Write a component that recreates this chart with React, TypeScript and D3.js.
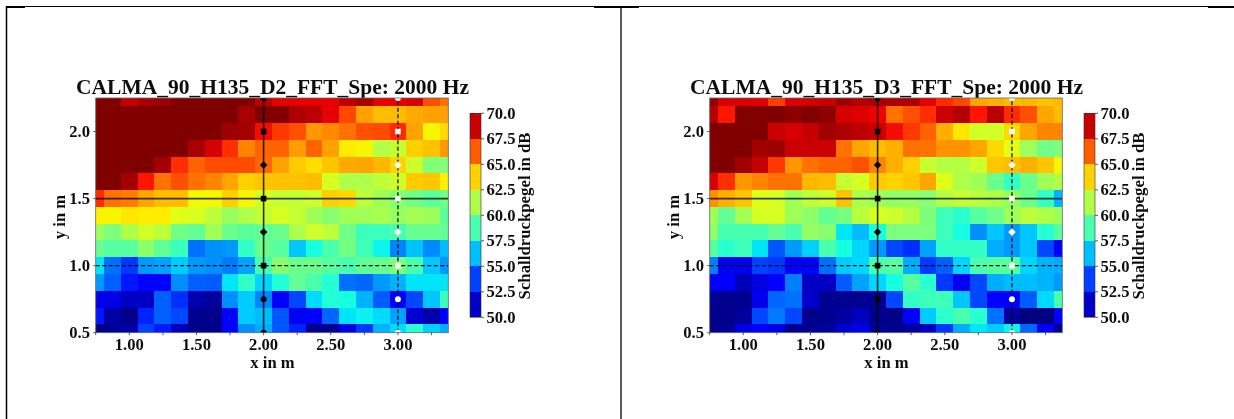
import React from 'react';
import * as d3 from 'd3';

// grid positions of the measured cells
const xCells = [0.75, 0.875, 1, 1.125, 1.25, 1.375, 1.5, 1.625, 1.75, 1.875, 2, 2.125, 2.25, 2.375, 2.5, 2.625, 2.75, 2.875, 3, 3.125, 3.25, 3.375];
const yCells = [2.25, 2.125, 2, 1.875, 1.75, 1.625, 1.5, 1.375, 1.25, 1.125, 1, 0.875, 0.75, 0.625, 0.5];

const xTicks = [0.75, 1, 1.25, 1.5, 1.75, 2, 2.25, 2.5, 2.75, 3, 3.25];
const xLabels = [1, 1.5, 2, 2.5, 3];
const yTicks = [0.5, 1, 1.5, 2];
const barLevels = [50, 52.5, 55, 57.5, 60, 62.5, 65, 67.5, 70];

const markerYs = [2.25, 2, 1.75, 1.5, 1.25, 1, 0.75, 0.5];
const markerShapes = ['circle', 'square', 'diamond', 'square', 'diamond', 'square', 'circle', 'circle'];

// dB per row, top row first
const d2Values = [
  [70, 70, 68.8, 69.3, 69.5, 70, 70, 70, 70, 70, 69, 68.2, 68.2, 68.2, 68.2, 69, 69.3, 68.2, 68.2, 68.5, 66.5, 65.8],
  [70, 70, 70, 70, 70, 70, 70, 70, 70, 69.3, 70, 70, 69.2, 69, 68.2, 66.7, 64.8, 64.2, 64.2, 64.6, 64.8, 64.8],
  [70, 70, 70, 70, 70, 70, 70, 70, 69.5, 69.4, 68, 67, 66.5, 65, 65.3, 65.8, 66.5, 66.6, 67.3, 64.8, 63, 63.6],
  [70, 70, 70, 70, 70, 70, 69.3, 68.5, 67.2, 65.4, 66.1, 66.1, 64.9, 66.1, 64.8, 63.2, 63, 61.3, 61.8, 63.8, 64.1, 65],
  [70, 70, 70, 70, 69.4, 67.2, 66.1, 66.6, 66.6, 66.6, 66, 64.8, 63.9, 63.5, 64, 64.6, 64.7, 64.3, 63.7, 62, 60.1, 60.1],
  [70, 70, 69.4, 67.8, 65.8, 66.5, 65.8, 65.4, 64.7, 63.8, 64, 64.1, 64.1, 64.2, 62.2, 61.2, 61.2, 61.6, 62, 63.9, 64, 63.1],
  [67.3, 65.8, 65.6, 64.7, 64.2, 64.2, 62.9, 62.9, 63.8, 63, 62.1, 61.8, 61.8, 62, 63.8, 63.6, 61.6, 60.9, 60.3, 59.8, 59.2, 59.8],
  [63.1, 63, 63.3, 63.2, 63.2, 62.4, 62.3, 61.6, 60.7, 61.2, 61.8, 62.2, 61.8, 60.9, 60.3, 60.9, 60.9, 61.1, 60.6, 61, 60.8, 59.2],
  [60.8, 60, 61.2, 62.1, 61.6, 59.7, 59.4, 60.9, 59.6, 59.2, 59.4, 59.6, 61.2, 62, 61.6, 59.7, 58.4, 58.4, 58.8, 59.5, 59.5, 59.4],
  [59.5, 59.1, 59.1, 60.4, 59.3, 58.4, 54.7, 55.3, 55.5, 58.2, 59.6, 59.1, 56.4, 57.6, 58.8, 59.8, 58.5, 57.3, 55.1, 56.3, 55.2, 56.2],
  [57, 54.7, 53.6, 55.5, 55.7, 56.5, 55.5, 55.3, 54.9, 55.7, 58.8, 60.3, 59.6, 59.6, 59.1, 58.7, 59.3, 59.5, 60, 58.8, 56.4, 55.5],
  [55.5, 54.4, 53, 52.2, 52.2, 55.3, 54.4, 54.3, 57, 58.2, 56.7, 57.8, 59.4, 58.8, 57.8, 54.7, 54.5, 55.5, 56, 57, 57, 57],
  [51.8, 51.8, 51.2, 51.2, 54.4, 53.4, 50.8, 50.5, 55.3, 56.5, 55.1, 52.6, 53.9, 56.8, 57.8, 57.6, 56, 54.3, 52.5, 53.9, 56.4, 58.4],
  [53, 50.6, 50.2, 53.2, 54.4, 53.9, 50.2, 50.2, 52.6, 56.5, 56.2, 54.2, 52, 52.2, 54.5, 57, 57.2, 56.8, 55.7, 51.4, 50.7, 52.2],
  [50.1, 50.3, 50.7, 53.8, 53.1, 51, 50.2, 50.2, 52.2, 55.3, 55.9, 54.2, 53.2, 50.2, 50.3, 51.8, 53.6, 56, 56.8, 58, 56.6, 55.9],
];

const d3Values = [
  [69.6, 68.5, 68.4, 68.3, 66.9, 68.4, 68.5, 68.8, 69.5, 69.1, 69.4, 69.2, 69.2, 68.2, 67.3, 66.7, 64.7, 64.5, 64.2, 64.3, 64.1, 64.3],
  [69.1, 67.8, 70, 70, 70, 69.8, 70, 69.8, 68.5, 68.4, 68.1, 65.8, 66.5, 67.2, 68.7, 69.1, 67.8, 69, 67.3, 66.5, 64.7, 64.2],
  [70, 70, 70, 70, 68.7, 68.5, 68.8, 69.4, 69.2, 69, 68.7, 68, 67, 66.1, 64.5, 63.3, 62.1, 62.1, 63.6, 64.7, 65.4, 65.4],
  [70, 70, 70, 69.4, 69.5, 68.7, 68.7, 68.7, 65.8, 64.7, 64.2, 64.5, 65.8, 65.8, 65.1, 65.1, 64.7, 63.6, 62.5, 60.8, 59.7, 60],
  [70, 70, 69.4, 68.8, 67, 65, 65.8, 66.1, 66.1, 66.5, 65.4, 64.5, 63.8, 61.8, 61.4, 61.4, 62, 64, 64.2, 64.5, 64, 63],
  [68.5, 67.2, 65, 65.4, 65.8, 65.8, 64.3, 64.2, 61.8, 62.2, 63.9, 63.7, 64, 64.7, 62.4, 61.2, 60.9, 59.6, 58.2, 59.6, 60.9, 61.4],
  [65.2, 64.5, 64, 62.4, 62.2, 60.9, 61.6, 62, 64.1, 61.2, 60.9, 60.6, 60.6, 60.3, 61.4, 61.8, 61.5, 61.2, 60.6, 59.6, 58.2, 56],
  [60.9, 59.4, 61, 62.2, 62.2, 60.9, 60.4, 59.4, 59.9, 61.5, 62.2, 62, 61.4, 60, 58.5, 58, 59.1, 59.7, 60.8, 61.6, 61.2, 60.8],
  [60.4, 58.7, 58.7, 58.7, 59.4, 58.8, 60.6, 60.3, 57, 56.2, 57.6, 60, 60, 60, 58.5, 57.5, 55.3, 56.4, 55.5, 56.4, 57.9, 59.1],
  [59.1, 58, 58.5, 57, 54.2, 55.5, 56.6, 58.8, 57.6, 56.7, 55.5, 53.9, 53.4, 55.7, 58.2, 58.2, 58.2, 55.9, 55.5, 56.4, 53.9, 52.5],
  [55, 51.9, 51.9, 53.8, 53.6, 52.3, 52.3, 54.7, 56.5, 56.7, 58.8, 59.1, 55.9, 53.6, 54.4, 56.7, 58.8, 59.1, 59.1, 56.7, 56, 55.9],
  [52.5, 52.5, 51, 51.7, 52.4, 55, 51.2, 51.2, 54.3, 55.7, 56.7, 57.5, 59.1, 58, 53.6, 52, 53.9, 55.9, 56.2, 56.2, 56, 55.5],
  [50.4, 50.3, 50.3, 51.9, 54.5, 54.7, 51.3, 50.3, 50.3, 50.3, 50.3, 53.9, 58.2, 58.5, 58.5, 56.4, 53.9, 52.3, 52.1, 54.3, 56.8, 58.8],
  [50.2, 50.2, 50.5, 53.9, 54.9, 53.9, 50.2, 50.3, 50.6, 51.1, 50.2, 50.1, 52.6, 56.5, 58, 58.8, 58, 54.7, 50.5, 50, 50, 52.2],
  [50.2, 50.3, 51.8, 52.6, 51.8, 50.3, 50.3, 50.5, 51.4, 51.8, 50.5, 50.3, 50.5, 51.1, 53.6, 55.9, 57, 56.5, 57.3, 54.5, 52.4, 50.3],
];

const fontFamily = '"Liberation Serif", serif';

// matplotlib's jet, channel by channel
const red = d3.scaleLinear().domain([0, 0.35, 0.66, 0.89, 1]).range([0, 0, 255, 255, 128]);
const green = d3.scaleLinear().domain([0, 0.125, 0.375, 0.64, 0.91, 1]).range([0, 0, 255, 255, 0, 0]);
const blue = d3.scaleLinear().domain([0, 0.11, 0.34, 0.65, 1]).range([128, 255, 255, 0, 0]);
const toUnit = d3.scaleLinear().domain([50, 70]).range([0, 1]).clamp(true);
const jet = (v: number) => {
  const t = toUnit(v);
  return d3.rgb(red(t), green(t), blue(t)).formatHex();
};

const x = d3.scaleLinear().domain([0.75, 3.375]).range([95.7, 448.3]);
const y = d3.scaleLinear().domain([0.5, 2.25]).range([332.7, 98]);
const barY = d3.scaleLinear().domain([50, 70]).range([317.3, 113.3]);

function Marker({ cx, cy, shape, fill }: { cx: number; cy: number; shape: string; fill: string }) {
  if (shape === 'square') return <rect x={cx - 2.8} y={cy - 2.8} width={5.6} height={5.6} fill={fill} />;
  if (shape === 'diamond') return <path d={`M${cx},${cy - 3.8}L${cx + 3.8},${cy}L${cx},${cy + 3.8}L${cx - 3.8},${cy}Z`} fill={fill} />;
  return <circle cx={cx} cy={cy} r={3} fill={fill} />;
}

function Panel({ id, dx, title, rows }: { id: string; dx: number; title: string; rows: number[][] }) {
  const cw = x(0.875) - x(0.75);
  const ch = y(0.5) - y(0.625);
  return (
    <g transform={`translate(${dx},0)`} fontFamily={fontFamily} fontWeight="bold" fill="#111" filter="url(#soft)">
      <clipPath id={id}>
        <rect x={x(0.75)} y={y(2.25)} width={x(3.375) - x(0.75)} height={y(0.5) - y(2.25)} />
      </clipPath>
      <text x={272.5} y={94} fontSize={21.5} textAnchor="middle">{title}</text>
      <g clipPath={`url(#${id})`}>
        {rows.map((row, j) =>
          row.map((v, i) => (
            <rect key={`${j}-${i}`} x={x(xCells[i]) - cw / 2} y={y(yCells[j]) - ch / 2} width={cw} height={ch} fill={jet(v)} shapeRendering="crispEdges" />
          ))
        )}
        <line x1={x(0.75)} x2={x(3.375)} y1={y(1.5)} y2={y(1.5)} stroke="#000" strokeOpacity={0.75} strokeWidth={1.6} />
        <line x1={x(0.75)} x2={x(3.375)} y1={y(1)} y2={y(1)} stroke="#000" strokeWidth={1.2} strokeDasharray="4 2.5" />
        <line x1={x(2)} x2={x(2)} y1={y(0.5)} y2={y(2.25)} stroke="#000" strokeOpacity={0.8} strokeWidth={1.6} />
        <line x1={x(3)} x2={x(3)} y1={y(0.5)} y2={y(2.25)} stroke="#000" strokeWidth={1.2} strokeDasharray="4 2.5" />
        {markerYs.map((v, i) => (
          <g key={v}>
            <Marker cx={x(2)} cy={y(v)} shape={markerShapes[i]} fill="#000" />
            <Marker cx={x(3)} cy={y(v)} shape={markerShapes[i]} fill="#fff" />
          </g>
        ))}
      </g>
      <rect x={x(0.75)} y={y(2.25)} width={x(3.375) - x(0.75)} height={y(0.5) - y(2.25)} fill="none" stroke="#666" strokeWidth={0.8} />
      {xTicks.map((t) => (
        <line key={t} x1={x(t)} x2={x(t)} y1={y(0.5)} y2={y(0.5) + 2.5} stroke="#333" strokeWidth={0.8} />
      ))}
      {xLabels.map((t) => (
        <text key={t} x={x(t)} y={349.5} fontSize={16.6} textAnchor="middle">{d3.format('.2f')(t)}</text>
      ))}
      <text x={272.5} y={368} fontSize={16.6} textAnchor="middle">x in m</text>
      {yTicks.map((t) => (
        <g key={t}>
          <line x1={x(0.75) - 2.5} x2={x(0.75)} y1={y(t)} y2={y(t)} stroke="#333" strokeWidth={0.8} />
          <text x={90} y={y(t) + 5.5} fontSize={16.6} textAnchor="end">{d3.format('.1f')(t)}</text>
        </g>
      ))}
      <text transform="translate(65,217) rotate(-90)" fontSize={16.6} textAnchor="middle">y in m</text>
      {barLevels.slice(0, -1).map((v, i) => (
        <rect key={v} x={470} y={barY(barLevels[i + 1])} width={11} height={barY(v) - barY(barLevels[i + 1])} fill={jet((v + barLevels[i + 1]) / 2)} shapeRendering="crispEdges" />
      ))}
      <rect x={470} y={barY(70)} width={11} height={barY(50) - barY(70)} fill="none" stroke="#333" strokeWidth={0.6} />
      {barLevels.map((v) => (
        <g key={v}>
          <line x1={481} x2={484} y1={barY(v)} y2={barY(v)} stroke="#333" strokeWidth={0.8} />
          <text x={486.5} y={barY(v) + 5.5} fontSize={16.6}>{d3.format('.1f')(v)}</text>
        </g>
      ))}
      <text transform="translate(530,216) rotate(-90)" fontSize={16.8} textAnchor="middle">Schalldruckpegel in dB</text>
    </g>
  );
}

export default function App() {
  return (
    <svg width={1234} height={419} viewBox="0 0 1234 419" style={{ position: 'absolute', left: 0, top: 0, background: '#fff' }}>
      <defs>
        <filter id="soft" x="-5%" y="-5%" width="110%" height="110%">
          <feGaussianBlur stdDeviation={0.55} />
        </filter>
      </defs>
      {/* table frame around the two pictures */}
      <g stroke="#000" fill="none">
        <line x1={6} x2={1234} y1={6.5} y2={6.5} strokeWidth={1} />
        <line x1={6} x2={25} y1={7} y2={7} strokeWidth={2} />
        <line x1={594} x2={639} y1={7} y2={7} strokeWidth={2} />
        <line x1={1208} x2={1234} y1={7} y2={7} strokeWidth={2} />
        <line x1={6.5} x2={6.5} y1={6} y2={419} strokeWidth={1.5} />
        <line x1={621} x2={621} y1={6} y2={419} strokeWidth={1.3} />
      </g>
      <Panel id="plotD2" dx={0} title="CALMA_90_H135_D2_FFT_Spe: 2000 Hz" rows={d2Values} />
      <Panel id="plotD3" dx={614} title="CALMA_90_H135_D3_FFT_Spe: 2000 Hz" rows={d3Values} />
    </svg>
  );
}
